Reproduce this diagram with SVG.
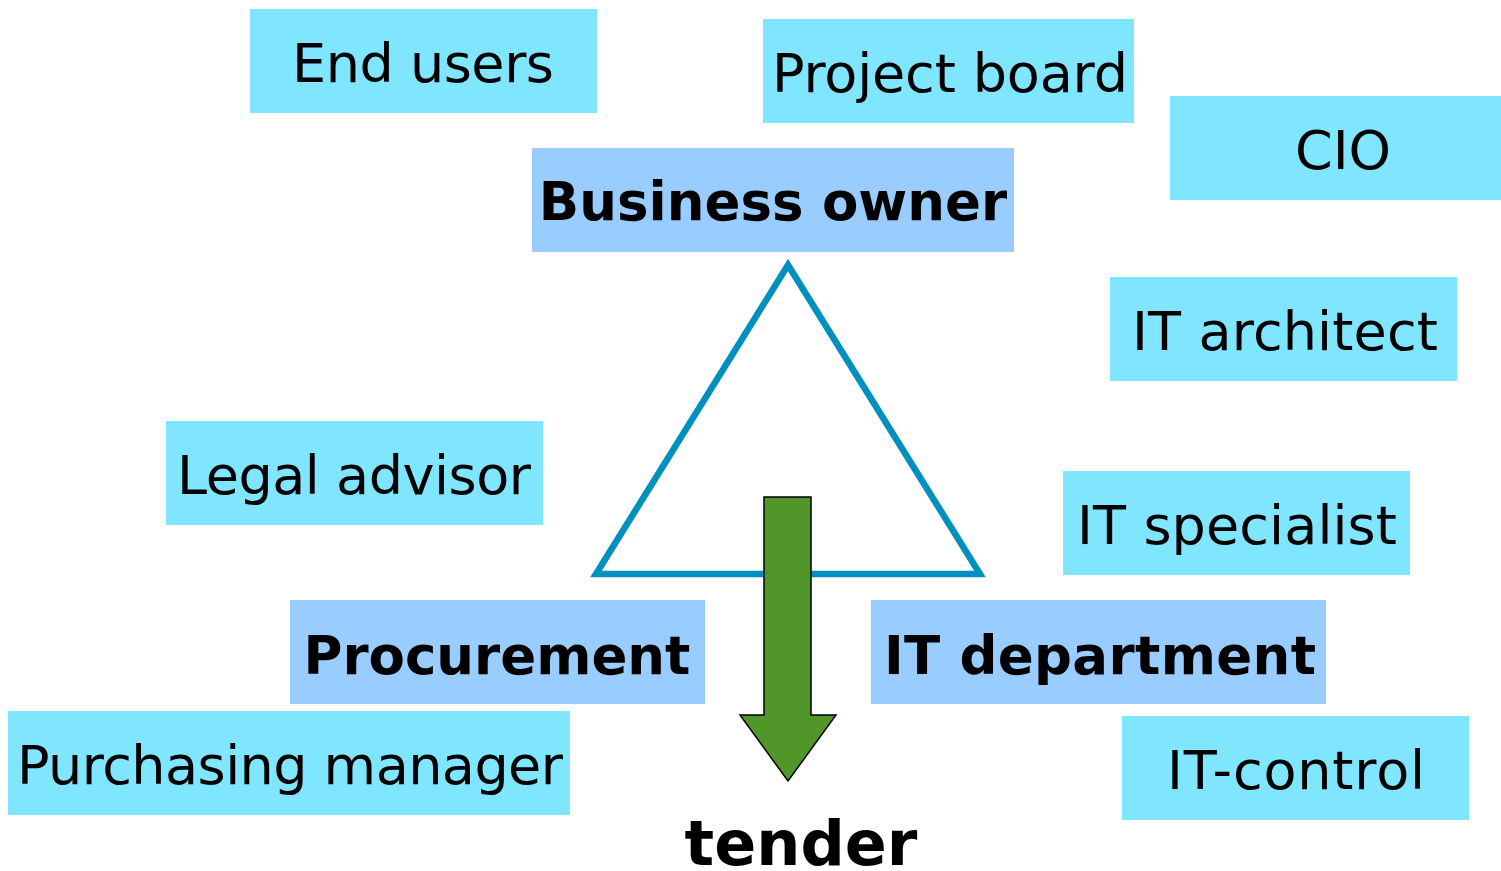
<svg xmlns="http://www.w3.org/2000/svg" width="1501" height="871" viewBox="0 0 1501 871">
<style>
.c{fill:#80E5FF}
.b{fill:#99CCFF}
text{font-family:"DejaVu Sans",Verdana,sans-serif;font-size:54px;fill:#000;text-anchor:middle}
.bold{font-weight:bold;font-size:53px}
.big{font-weight:bold;font-size:62px}
</style>
<rect width="1501" height="871" fill="#fff"/>
<g id="triangle"><polygon points="788,265 596,574 980,574" fill="none" stroke="#0090C0" stroke-width="6.5"/></g>
<g id="end-users"><rect class="c" x="250" y="9" width="347" height="104"/><text x="423" y="82" textLength="262">End users</text></g>
<g id="project-board"><rect class="c" x="763" y="19" width="371" height="104"/><text x="950" y="92" textLength="356">Project board</text></g>
<g id="cio"><rect class="c" x="1170" y="96" width="331" height="104"/><text x="1343" y="169">CIO</text></g>
<g id="business-owner"><rect class="b" x="532" y="148" width="482" height="104"/><text class="bold" x="773" y="220">Business owner</text></g>
<g id="it-architect"><rect class="c" x="1110" y="277" width="347" height="104"/><text x="1285" y="350" textLength="306">IT architect</text></g>
<g id="legal-advisor"><rect class="c" x="166" y="421" width="377" height="104"/><text x="354" y="494" textLength="354">Legal advisor</text></g>
<g id="it-specialist"><rect class="c" x="1063" y="471" width="347" height="104"/><text x="1237" y="544" textLength="320">IT specialist</text></g>
<g id="procurement"><rect class="b" x="290" y="600" width="415" height="104"/><text class="bold" x="497" y="674">Procurement</text></g>
<g id="it-department"><rect class="b" x="871" y="600" width="455" height="104"/><text class="bold" x="1100" y="674" textLength="432">IT department</text></g>
<g id="purchasing-manager"><rect class="c" x="8" y="711" width="562" height="104"/><text x="290" y="784" textLength="546">Purchasing manager</text></g>
<g id="it-control"><rect class="c" x="1122" y="716" width="347" height="104"/><text x="1296" y="789" textLength="258">IT-control</text></g>
<g id="connectors"><polygon points="764,497 811,497 811,715 836,715 788,781 740,715 764,715" fill="#509628" stroke="#000" stroke-width="1.5"/></g>
<g id="tender"><text class="big" x="801" y="865">tender</text></g>
</svg>
